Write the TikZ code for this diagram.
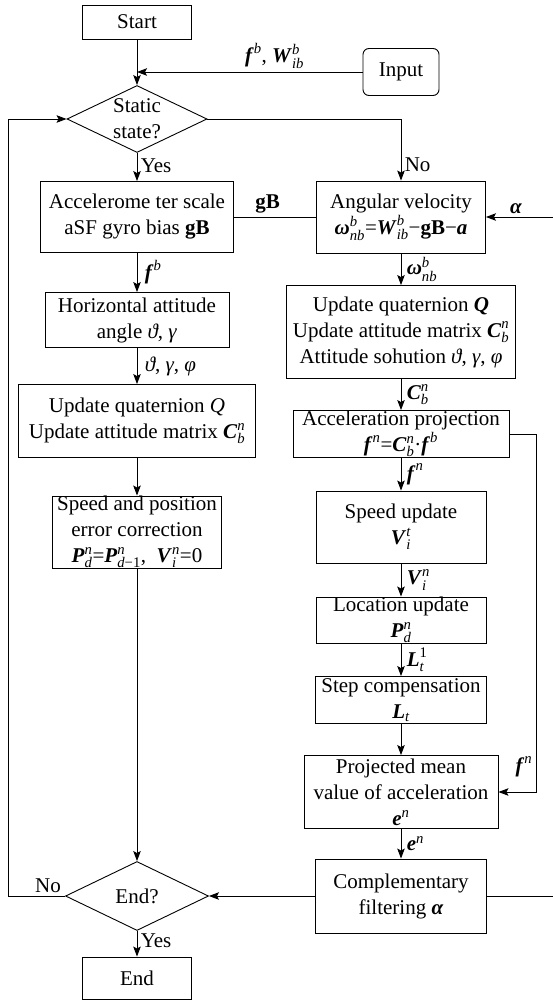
\documentclass[tikz,border=0pt]{standalone}
\usepackage{amsmath}
\usepackage{fontspec}
\setmainfont{Liberation Serif}
\usetikzlibrary{shapes.geometric, arrows.meta}

\newcommand{\vb}[1]{\textbf{\textit{#1}}}
\newcommand{\vsup}[2]{$\vb{#1}^{\textit{#2}}$}
\newcommand{\vsub}[3]{$\vb{#1}^{\textit{#2}}_{\textit{#3}}$}

\begin{document}
\begin{tikzpicture}[x=1pt, y=-1pt, line width=0.9pt,
    every node/.style={font=\rmfamily\fontsize{21}{26}\selectfont},
    box/.style={draw, rectangle, align=center, inner sep=0pt},
    decision/.style={draw, diamond, aspect=2.1, align=center, inner sep=0pt},
    arrow/.style={-{Stealth[length=10pt, width=7.5pt, inset=2pt]}}]
    \useasboundingbox (0,0) rectangle (553,1003);

    % Start and input
    \node[box, minimum width=109, minimum height=34] (start) at (137,22) {Start};
    \node[box, rounded corners=6pt, minimum width=76, minimum height=47] (input) at (401,72) {Input};

    % Static check
    \node[decision, minimum width=140, minimum height=67] (static) at (137,119) {Static\\state?};

    % Left column - static branch
    \node[box, minimum width=193, minimum height=71] (accel) at (137,217) {Accelerome ter scale\\
        aSF gyro bias \textbf{gB}};
    \node[box, minimum width=184, minimum height=55] (horiz) at (137,320) {Horizontal attitude\\
        angle \textit{ϑ}, \textit{γ}};
    \node[box, minimum width=237, minimum height=73] (updleft) at (137,421) {Update quaternion \textit{Q}\\
        Update attitude matrix \vsub{C}{n}{b}};
    \node[box, minimum width=169, minimum height=72] (speedfix) at (137,532) {Speed and position\\
        error correction\\
        \vsub{P}{n}{d}=\vsub{P}{n}{d\textup{−1}},\ \ \vsub{V}{n}{i}=0};

    % Right column - moving branch
    \node[box, minimum width=169, minimum height=72] (angular) at (401,217) {Angular velocity\\
        \vsub{ω}{b}{nb}=\vsub{W}{b}{ib}−\textbf{gB}−\vb{a}};
    \node[box, minimum width=229, minimum height=93] (updright) at (401,332) {Update quaternion \vb{Q}\\
        Update attitude matrix \vsub{C}{n}{b}\\
        Attitude sohution \textit{ϑ}, \textit{γ}, \textit{φ}};
    \node[box, minimum width=216, minimum height=47] (accproj) at (401,434) {Acceleration projection\\
        \vsup{f}{n}=\vsub{C}{n}{b}·\vsup{f}{b}};
    \node[box, minimum width=170, minimum height=72] (speedupd) at (401,527) {Speed update\\
        \vsub{V}{t}{i}};
    \node[box, minimum width=170, minimum height=46] (location) at (401,620) {Location update\\
        \vsub{P}{n}{d}};
    \node[box, minimum width=171, minimum height=47] (step) at (401,700) {Step compensation\\
        $\vb{L}_{\textit{t}}$};
    \node[box, minimum width=194, minimum height=73] (projmean) at (401,792) {Projected mean\\
        value of acceleration\\
        \vsup{e}{n}};
    \node[box, minimum width=171, minimum height=74] (compl) at (401,896) {Complementary\\
        filtering \vb{α}};

    % End check
    \node[decision, minimum width=143, minimum height=69] (enddec) at (137,896) {End?};
    \node[box, minimum width=109, minimum height=42] (endbox) at (137,978) {End};

    % Free ends
    \coordinate (loopx) at (8,0);
    \coordinate (fnx) at (536,0);
    \coordinate (alphain) at (553,217);
    \coordinate (filtout) at (553,896);

    % Top edges
    \draw[arrow] (start) -- (static);
    \draw[arrow] (input.west) -- node[above, pos=0.39] {\vsup{f}{b}, \vsub{W}{b}{ib}} (input.west -| start.south);
    \draw[arrow] (static) -- node[right, pos=0.45] {Yes} (accel);
    \draw[arrow] (static.east) -| node[right, pos=0.87] {No} (angular.north);

    % Left column edges
    \draw (accel) -- node[above, pos=0.41] {\textbf{gB}} (angular);
    \draw[arrow] (accel) -- node[right, xshift=4pt] {\vsup{f}{b}} (horiz);
    \draw[arrow] (horiz) -- node[right, xshift=4pt] {\textit{ϑ}, \textit{γ}, \textit{φ}} (updleft);
    \draw[arrow] (updleft) -- (speedfix);
    \draw[arrow] (speedfix) -- (enddec);
    \draw[arrow] (enddec) -- node[right, pos=0.4] {Yes} (endbox);
    \draw[arrow] (enddec.west) -- node[above, pos=0.3] {No} (enddec.west -| loopx) |- (static.west);

    % Right column edges
    \draw[arrow] (alphain) -- node[above, pos=0.55] {\vb{α}} (angular.east);
    \draw[arrow] (angular) -- node[right, xshift=2pt] {\vsub{ω}{b}{nb}} (updright);
    \draw[arrow] (updright) -- node[right, xshift=2pt] {\vsub{C}{n}{b}} (accproj);
    \draw[arrow] (accproj) -- node[right, xshift=2pt] {\vsup{f}{n}} (speedupd);
    \draw[arrow] (speedupd) -- node[right, xshift=2pt] {\vsub{V}{n}{i}} (location);
    \draw[arrow] (location) -- node[right, xshift=2pt] {$\vb{L}^{\textup{1}}_{\textit{t}}$} (step);
    \draw[arrow] (step) -- (projmean);
    \draw[arrow] (accproj.east) -- (accproj.east -| fnx) |- node[left, pos=0.465] {\vsup{f}{n}} (projmean.east);
    \draw[arrow] (projmean) -- node[right, xshift=2pt] {\vsup{e}{n}} (compl);
    \draw[arrow] (compl) -- (enddec);
    \draw (compl.east) -- (filtout);
\end{tikzpicture}
\end{document}
